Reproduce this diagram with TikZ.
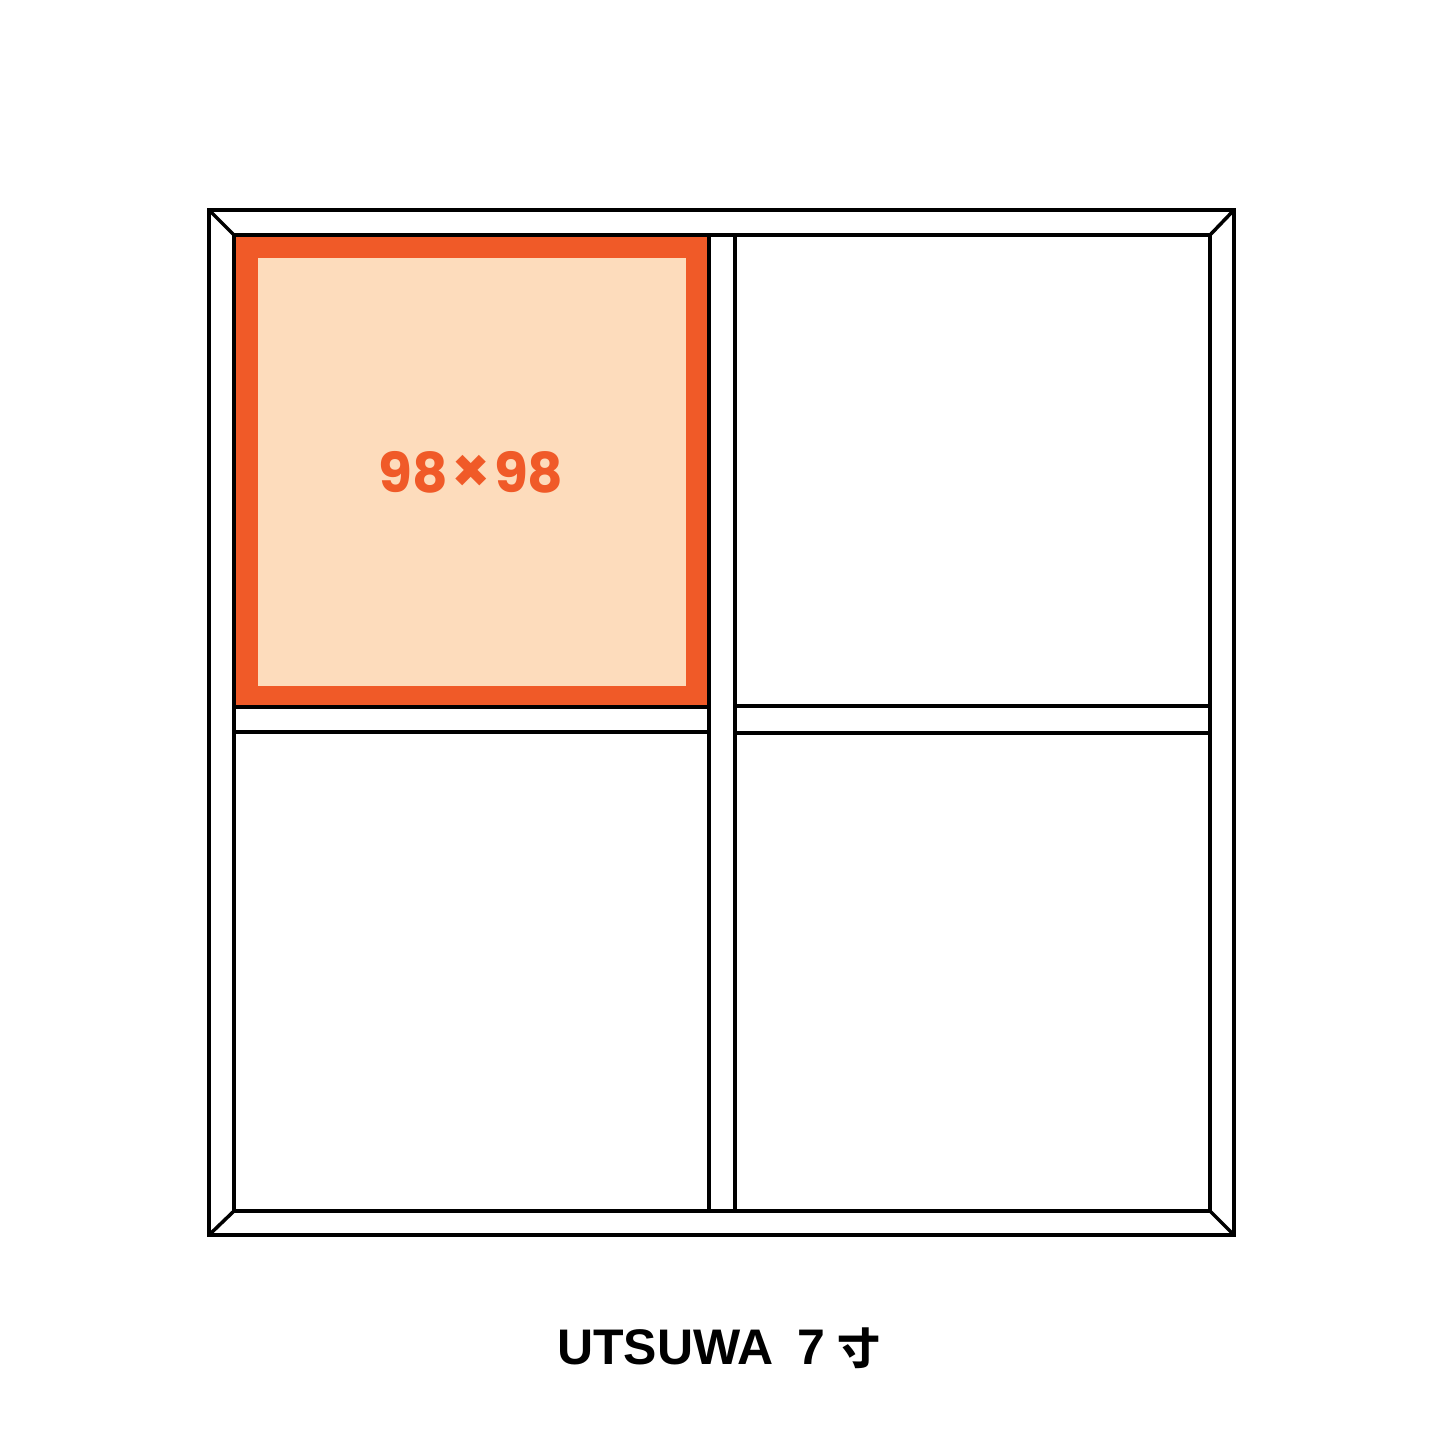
\documentclass[tikz,border=0pt]{standalone}
\usepackage{fontspec}
\usepackage{tikz}
\setmainfont{Liberation Sans}
\newfontfamily\numfont{Poppins}
\newfontfamily\cjkfont{Noto Sans CJK JP}
\definecolor{boxorange}{HTML}{F05A28}
\definecolor{boxpeach}{HTML}{FDDCBC}

\begin{document}
\begin{tikzpicture}[x=1pt,y=-1pt]
\tikzstyle{every node}+=[inner sep=0pt]
\tikzstyle{frameline}=[black,line width=3.5pt]
\useasboundingbox (0,0) rectangle (1445,1445);
% named corners of the tray
\coordinate (outerTL) at (209,210);
\coordinate (outerTR) at (1234,210);
\coordinate (outerBR) at (1234,1235);
\coordinate (outerBL) at (209,1235);
\coordinate (innerTL) at (234,235);
\coordinate (innerTR) at (1210,235);
\coordinate (innerBR) at (1210,1211);
\coordinate (innerBL) at (234,1211);
% highlighted compartment
\fill [boxorange] (234,235) rectangle (709,707);
\fill [boxpeach] (258,258) rectangle (686,686);
\draw (471,472) node [text=boxorange,font=\numfont\bfseries\fontsize{55}{60}\selectfont] (size) {98\hspace{0.06em}{\fontsize{62}{60}\selectfont ×}\hspace{0.06em}98};
% frame
\draw [frameline] (outerTL) rectangle (outerBR);
\draw [frameline] (innerTL) rectangle (innerBR);
\draw [frameline] (outerTL) -- (innerTL);
\draw [frameline] (outerTR) -- (innerTR);
\draw [frameline] (outerBR) -- (innerBR);
\draw [frameline] (outerBL) -- (innerBL);
% dividers
\draw [frameline] (709,235) -- (709,1211);
\draw [frameline] (735,235) -- (735,1211);
\draw [frameline] (234,707) -- (709,707);
\draw [frameline] (234,732) -- (709,732);
\draw [frameline] (735,706) -- (1210,706);
\draw [frameline] (735,733) -- (1210,733);
% caption
\draw (719,1348) node [font=\bfseries\fontsize{50}{54}\selectfont] (caption) {UTSUWA\hspace{0.48em}7\hspace{0.25em}{\cjkfont\bfseries\fontsize{43}{54}\selectfont 寸}};
\end{tikzpicture}
\end{document}
